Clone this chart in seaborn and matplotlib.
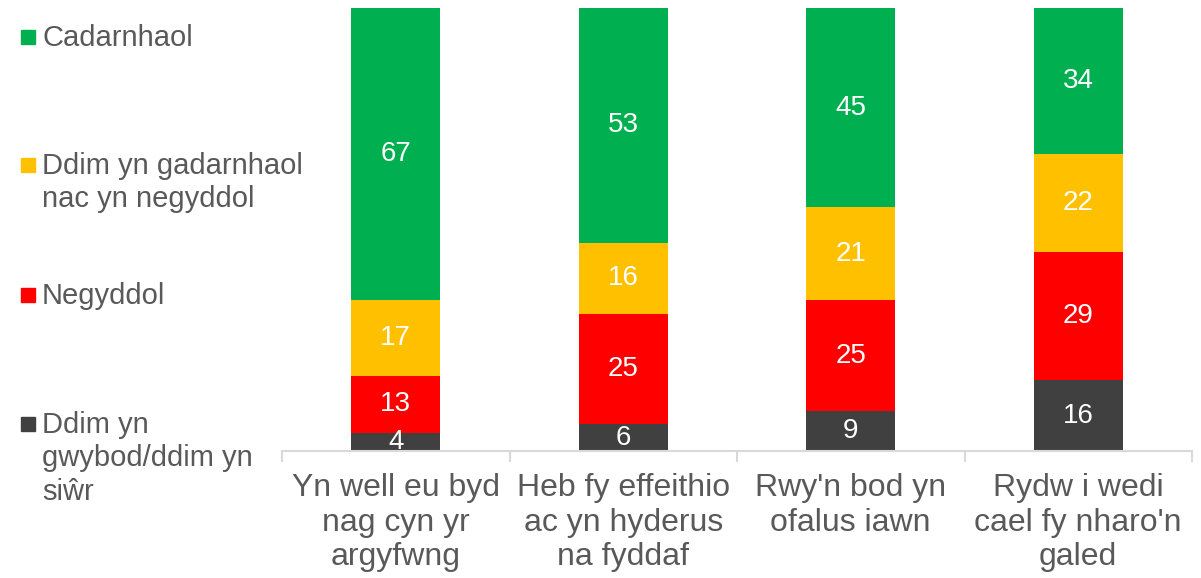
import matplotlib
matplotlib.use("Agg")
import matplotlib.pyplot as plt
import seaborn as sns
import numpy as np
import pandas as pd
from matplotlib.patches import Rectangle

categories = ["Yn well eu byd\nnag cyn yr\nargyfwng",
              "Heb fy effeithio\nac yn hyderus\nna fyddaf",
              "Rwy'n bod yn\nofalus iawn",
              "Rydw i wedi\ncael fy nharo'n\ngaled"]
series_names = ["Ddim yn\ngwybod/ddim yn\nsiŵr", "Negyddol",
                "Ddim yn gadarnhaol\nnac yn negyddol", "Cadarnhaol"]
dont_know = [4, 6, 9, 16]
negative = [13, 25, 25, 29]
neutral = [17, 16, 21, 22]
positive = [67, 53, 45, 34]
colors = ["#404040", "#FF0000", "#FFC000", "#00B050"]

series_values = [dont_know, negative, neutral, positive]

sns.set_theme(style="white")
plt.rcParams['font.family'] = ['Liberation Sans', 'DejaVu Sans']

fig = plt.figure(figsize=(12.01, 5.78), dpi=100)
ax = fig.add_axes([282/1201, 1 - 451/578, (1192-282)/1201, (451-8)/578])

YMAX = 100
df = pd.DataFrame({"cat": categories})
cum = np.zeros(len(categories))
cums = []
for vals in series_values:
    cum = cum + np.array(vals)
    cums.append(cum.copy())

# draw cumulative totals from the top series down, so each overlaps the next
for idx in range(len(series_values) - 1, -1, -1):
    df["h"] = cums[idx]
    sns.barplot(data=df, x="cat", y="h", color=colors[idx], width=0.39,
                saturation=1, linewidth=0, ax=ax, order=categories)

# data labels, centred on the visible part of each segment
for idx, vals in enumerate(series_values):
    bottoms = cums[idx] - np.array(vals)
    for i, v in enumerate(vals):
        top = min(bottoms[i] + v, YMAX)
        yc = (bottoms[i] + top) / 2
        ax.text(i, yc, str(v), ha="center", va="center",
                color="white", fontsize=20)

ax.set_xlim(-0.5, 3.5)
ax.set_ylim(0, YMAX)
ax.set_xlabel("")
ax.set_ylabel("")
ax.set_yticks([])
for s in ["top", "right", "left"]:
    ax.spines[s].set_visible(False)
ax.spines["bottom"].set_color("#D9D9D9")
ax.spines["bottom"].set_linewidth(1.5)

ax.set_xticks(range(len(categories)))
ax.set_xticklabels(categories, fontsize=23, color="#595959", linespacing=1.2)
ax.tick_params(axis="x", which="major", length=0, pad=16)
ax.set_xticks(np.arange(-0.5, len(categories), 1.0), minor=True)
ax.tick_params(axis="x", which="minor", length=8, width=1.5, color="#D9D9D9",
               direction="out", bottom=True)

# manual legend on the left
legend_order = [3, 2, 1, 0]
legend_y = [37, 165, 295, 424]  # first-line centres in pixels
for k, idx in enumerate(legend_order):
    yc = legend_y[k]
    fig.patches.append(Rectangle((21/1201, 1 - (yc + 7)/578), 14/1201, 14/578,
                                 transform=fig.transFigure, color=colors[idx],
                                 figure=fig))
    fig.text(42/1201, 1 - (yc - 13)/578, series_names[idx], ha="left", va="top",
             fontsize=21, color="#595959", linespacing=1.24)

fig.savefig("out.png", dpi=100)
